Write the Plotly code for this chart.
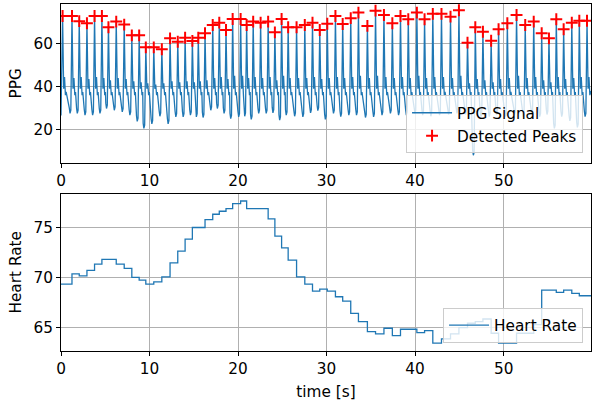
import plotly.graph_objects as go

# ---------------- data ----------------
peak_times = [0.18, 1.24, 2.06, 2.93, 3.79, 4.62, 5.36, 6.24, 7.14, 8.0, 8.83, 9.58, 10.48, 11.39, 12.32, 13.19, 14.02, 14.84,
              15.51, 16.27, 17.14, 17.88, 18.64, 19.39, 20.29, 20.97, 21.71, 22.55, 23.40, 24.16, 24.92, 25.66, 26.61, 27.54, 28.41, 29.23,
              30.08,
              31.0, 31.82, 32.73, 33.6, 34.61, 35.53, 36.48, 37.43, 38.35, 39.23, 40.2, 41.07, 42.0, 42.98, 44.0,
              44.95, 45.92, 46.8, 47.66, 48.59, 49.43, 50.42, 51.46, 52.44, 53.4, 54.3, 55.12, 55.95, 56.78, 57.7, 58.55, 59.42]
peak_values = [72.9, 72.9, 70.5, 69.5, 72.9, 72.9, 67.7, 70.3, 68.9, 63.9, 63.9, 58.3, 58.3, 57.4, 62.5, 60.9, 62.8, 61.3,
               62.8, 64.9, 68.7, 69.8, 66.4, 71.5, 71.5, 68.7, 70.3, 69.8, 70.3, 65.3, 71.5, 67.7, 67.7, 68.7, 69.8, 66.4,
               69.3,
               72.9, 69.2, 71.9, 74.5, 68.3, 75.4, 73.4, 69.5, 72.9, 71.4, 74.5, 71.4, 73.9, 73.9, 72.6,
               75.6, 60.5, 67.7, 65.6, 61.4, 66.7, 69.5, 73.4, 68.7, 70.3, 64.9, 62.5, 71.4, 66.7, 69.8, 70.7, 70.7]
# signal minimum just before each detected peak
trough_values = [26.5, 27.5, 27.5, 26.7, 26.7, 27.5, 29.8, 29.0, 28.2, 26.7, 23.8, 20.5, 22.6, 26.2, 22.6, 25.9, 25.9, 26.7,
                 25.9, 25.6, 29.0, 29.8, 27.5, 25.1, 25.9, 26.2, 24.7, 27.5, 27.5, 27.8, 24.4, 26.7, 26.2, 25.9, 27.8, 28.8,
                 24.7,
                 27.5, 26.0, 26.7, 26.7, 25.6, 25.9, 26.7, 27.5, 26.7, 26.7, 27.5, 26.7, 26.2, 26.7, 27.0,
                 27.5, 27.0, 8.0, 26.0, 26.0, 27.0, 26.0, 27.0, 26.0, 27.0, 26.0, 27.0, 20.5, 26.0, 24.0, 21.0, 26.0]
# dicrotic (secondary) wave height after each peak
secondary_values = [44.5, 44.0, 44.5, 43.5, 44.5, 44.0, 43.0, 44.0, 43.5, 42.5, 42.0, 41.5, 41.0, 41.5, 42.5, 42.0, 42.5, 42.0,
                    42.5, 43.0, 44.0, 44.5, 43.5, 45.0, 45.0, 44.0, 44.5, 44.0, 44.5, 43.0, 45.0, 44.0, 44.0, 44.0, 44.5, 43.5,
                    44.0,
                    44.5, 44.0, 44.5, 45.0, 44.0, 45.0, 44.5, 44.0, 44.5, 44.0, 45.0, 44.0, 44.5, 44.5, 44.0,
                    45.0, 41.5, 43.5, 43.0, 42.0, 43.5, 44.0, 45.0, 44.0, 44.5, 43.0, 42.0, 44.5, 43.5, 44.0, 44.5, 44.5]
signal_end_time = 59.87
signal_end_value = 38.0

hr_times = [0.0, 1.24, 2.06, 2.93, 3.79, 4.62, 6.24, 7.14, 8.0, 8.83, 9.58, 10.48, 11.39, 12.32, 13.19, 14.02, 14.84,
            16.27, 17.14, 17.88, 18.64, 19.39, 20.29, 20.97, 23.40, 24.16, 24.92, 25.66, 26.61, 27.54, 28.41, 29.23,
            30.08, 31.0, 31.82, 32.73, 33.6, 34.61, 35.53, 36.48, 37.43, 38.35, 40.2, 41.07, 42.0, 42.98, 44.0,
            44.95, 45.92, 46.8, 47.66, 48.59, 49.43, 51.46, 53.4, 54.3, 55.95, 56.78, 57.7, 58.55, 59.87]
hr_values = [69.37, 70.4, 70.2, 70.74, 71.37, 71.84, 71.37, 70.94, 70.04, 69.77, 69.37, 69.6, 70.1, 71.5, 72.67, 73.87, 75.04,
             75.84, 76.37, 76.67, 76.94, 77.44, 77.7, 76.94, 75.9, 74.17, 73.0, 71.77, 70.1, 69.37, 68.67, 68.87,
             68.67, 68.1, 67.67, 66.44, 65.6, 64.6, 64.37, 64.94, 64.2, 64.84, 64.5, 64.7, 63.44, 63.87, 64.37,
             65.0, 65.44, 65.6, 65.87, 64.44, 63.44, 64.44, 65.3, 68.77, 68.53, 68.77, 68.44, 68.2, 68.2]

x_ticks = [0, 10, 20, 30, 40, 50]
ppg_ticks = [20, 40, 60]
hr_ticks = [65, 70, 75]

# ---------------- build the PPG waveform from beat landmarks ----------------
sig_t = [0.0]
sig_v = [trough_values[0]]
n = len(peak_times)
for i in range(n):
    tp = peak_times[i]
    if i > 0:
        tr = trough_values[i]
        sig_t += [tp - 0.30, tp - 0.22, tp - 0.13]
        sig_v += [tr + 2.5, tr, tr + 1.5]
    sig_t.append(tp)
    sig_v.append(peak_values[i])
    nxt = peak_times[i + 1] if i + 1 < n else 99.0
    pts = [(0.12, 39.0), (0.22, secondary_values[i]), (0.32, 36.0), (0.40, 37.5)]
    for dt, v in pts:
        if tp + dt < nxt - 0.32 and tp + dt <= signal_end_time:
            sig_t.append(tp + dt)
            sig_v.append(v)
sig_t.append(signal_end_time)
sig_v.append(signal_end_value)

BLUE = "#1f77b4"
FONT = "DejaVu Sans"
FS = 15.3

fig = go.Figure()
fig.add_trace(go.Scatter(x=sig_t, y=sig_v, mode="lines", name="PPG Signal", legendgroup="a",
                         line=dict(color=BLUE, width=1.3), xaxis="x", yaxis="y", legend="legend"))
fig.add_trace(go.Scatter(x=peak_times, y=peak_values, mode="markers", name="Detected Peaks", legendgroup="b",
                         marker=dict(symbol="cross-thin", size=8.5, line=dict(color="red", width=2), color="red"),
                         xaxis="x", yaxis="y", legend="legend"))
fig.add_trace(go.Scatter(x=hr_times, y=hr_values, mode="lines", name="Heart Rate", line_shape="hv",
                         line=dict(color=BLUE, width=1.3), xaxis="x2", yaxis="y2", legend="legend2"))

axis_common = dict(showline=True, linecolor="black", linewidth=1, mirror=True, automargin=False,
                   ticks="outside", ticklen=4, tickcolor="black", tickwidth=1,
                   showgrid=True, gridcolor="#b0b0b0", gridwidth=0.8, zeroline=False,
                   tickfont=dict(family=FONT, size=FS, color="black"))

legend_common = dict(bgcolor="rgba(255,255,255,0.8)", bordercolor="#cccccc", borderwidth=1,
                     font=dict(family=FONT, size=FS, color="black"), xanchor="right", yanchor="bottom",
                     tracegroupgap=0, itemwidth=40, traceorder="grouped")

fig.update_layout(
    width=592, height=404,
    margin=dict(l=61, r=1, t=4, b=53, autoexpand=False),
    paper_bgcolor="white", plot_bgcolor="white",
    font=dict(family=FONT, size=FS, color="black"),
    xaxis=dict(domain=[0, 1], anchor="y", range=[0, 59.87], tickvals=x_ticks, **axis_common),
    yaxis=dict(domain=[0.543, 1], anchor="x", range=[4.6, 78.5], tickvals=ppg_ticks,
               title=dict(text="PPG", standoff=8, font=dict(family=FONT, size=FS)), **axis_common),
    xaxis2=dict(domain=[0, 1], anchor="y2", range=[0, 59.87], tickvals=x_ticks,
                title=dict(text="time [s]", standoff=8, font=dict(family=FONT, size=FS)), **axis_common),
    yaxis2=dict(domain=[0, 0.4536], anchor="x2", range=[62.66, 78.44], tickvals=hr_ticks,
                title=dict(text="Heart Rate", standoff=8, font=dict(family=FONT, size=FS)), **axis_common),
    legend=dict(x=0.985, y=0.5697, **legend_common),
    legend2=dict(x=0.985, y=0.024, **legend_common),
    showlegend=True,
)

fig.write_html("out.html", config={"displayModeBar": False},
               post_script="document.body.style.margin='0';document.body.style.overflow='hidden';")
